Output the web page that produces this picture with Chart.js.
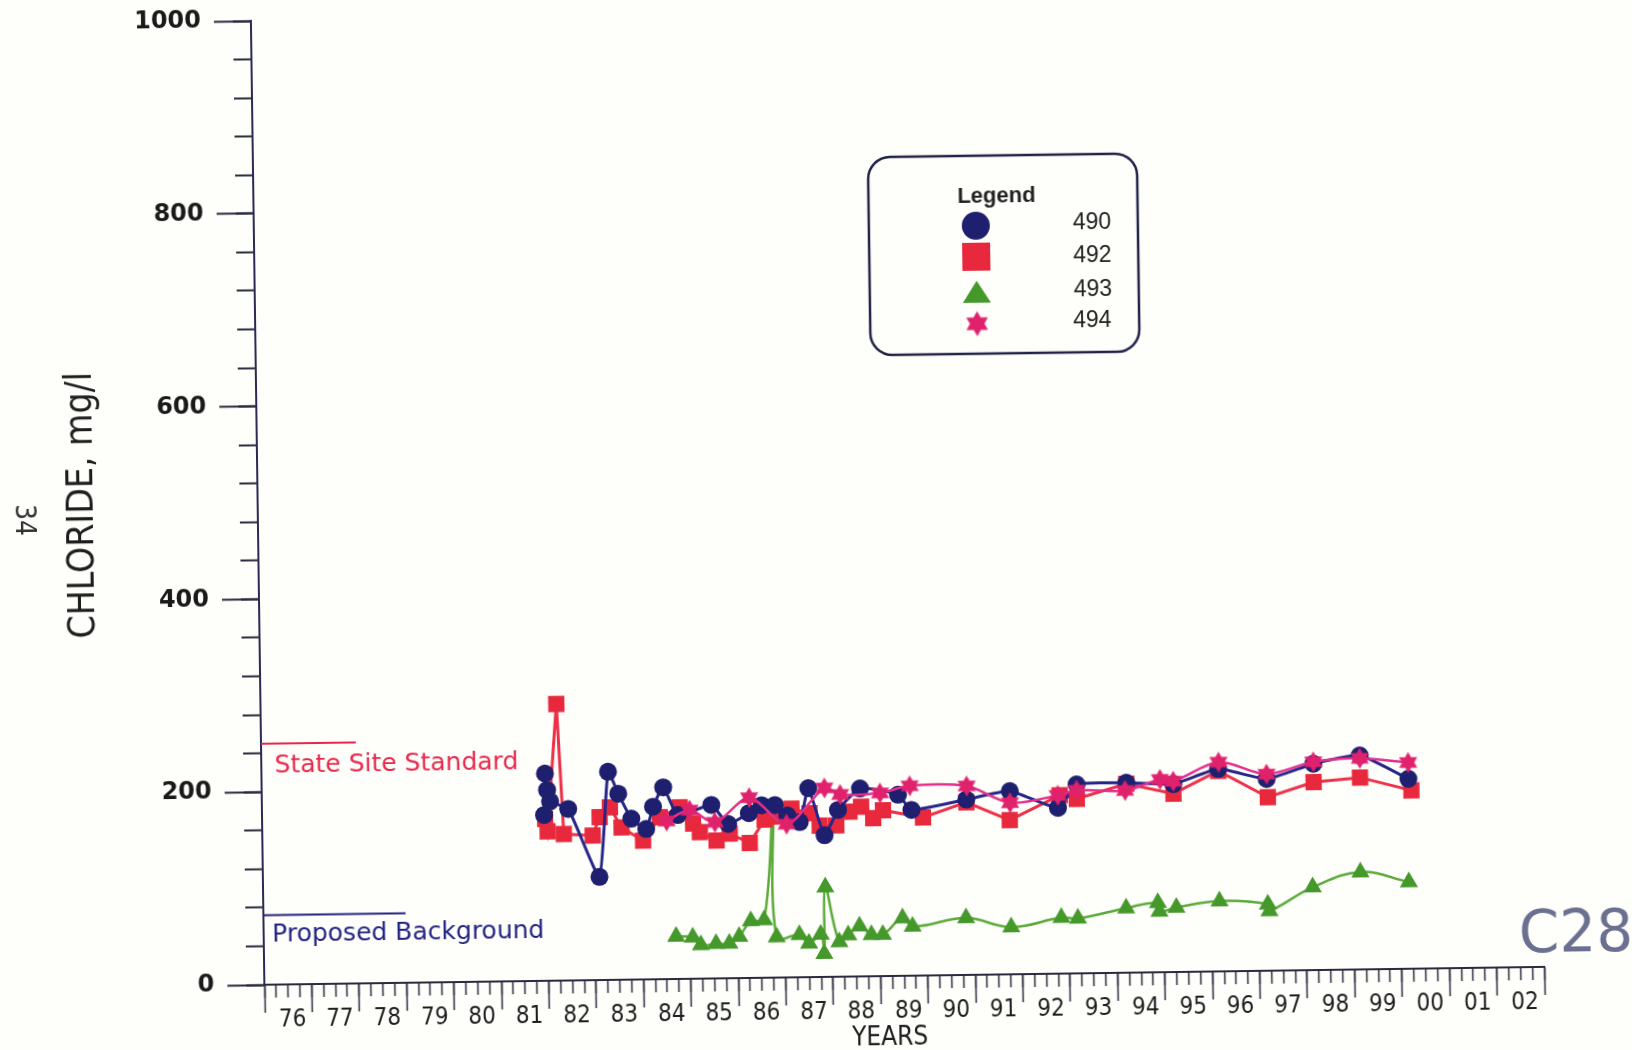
<!DOCTYPE html>
<html>
<head>
<meta charset="utf-8">
<title>Chloride</title>
<script src="https://cdn.jsdelivr.net/npm/chart.js@4.4.1/dist/chart.umd.min.js"></script>
<style>
    html, body { margin: 0; padding: 0; background: #fefefb; overflow: hidden; }
    /* a folha original foi digitalizada levemente torta */
    #grafico { display: block; transform: rotate(-0.8deg); transform-origin: 816px 525px; }
</style>
</head>
<body>
<canvas id="grafico" width="1632" height="1050"></canvas>
<script>
// eixo X em anos decimais, rotulos no meio de cada ano
const anoInicio = 1976;
const anoFim = 2003;
const rotulosAnos = ['76', '77', '78', '79', '80', '81', '82', '83', '84', '85', '86', '87', '88', '89',
    '90', '91', '92', '93', '94', '95', '96', '97', '98', '99', '00', '01', '02'];

// eixo Y (mg/l)
const valoresEixoY = [0, 200, 400, 600, 800, 1000];
const rotulosEixoY = ['0', '200', '400', '600', '800', '1000'];

// poço 490
const anos490 = [1981.95, 1981.98, 1982.02, 1982.08, 1982.46, 1983.10, 1983.31, 1983.52, 1983.79, 1984.10,
    1984.25, 1984.47, 1984.77, 1985.48, 1985.83, 1986.27, 1986.54, 1986.82, 1987.08, 1987.34, 1987.53,
    1987.86, 1988.15, 1988.62, 1989.42, 1989.70, 1990.86, 1991.78, 1992.79, 1993.19, 1994.24, 1995.23,
    1996.18, 1997.20, 1998.19, 1999.17, 2000.19];
const cloreto490 = [172, 215, 198, 186, 178, 107, 216, 193, 167, 156,
    179, 199, 170, 180, 160, 171, 179, 179, 168, 161, 196,
    147, 173, 195, 188, 172, 182, 190, 172, 196, 197, 195,
    210, 199, 214, 222, 197];

// poço 492
const anos492 = [1981.97, 1982.02, 1982.24, 1982.36, 1982.97, 1983.12, 1983.34, 1983.58, 1984.03, 1984.39,
    1984.81, 1985.09, 1985.23, 1985.58, 1985.86, 1986.28, 1986.60, 1986.84, 1987.17, 1987.55, 1987.76,
    1988.11, 1988.39, 1988.64, 1988.89, 1989.10, 1989.94, 1990.86, 1991.77, 1992.83, 1993.19, 1994.24,
    1995.23, 1996.18, 1997.22, 1998.19, 1999.17, 2000.25];
const cloreto492 = [168, 155, 287, 152, 150, 169, 179, 158, 144, 168,
    178, 161, 152, 143, 150, 140, 164, 167, 175, 170, 157,
    157, 171, 176, 164, 172, 164, 179, 160, 185, 181, 196,
    185, 208, 180, 195, 199, 185];

// poço 493
const anos493 = [1984.70, 1985.05, 1985.22, 1985.54, 1985.82, 1986.03, 1986.28, 1986.56, 1986.78, 1986.82,
    1987.30, 1987.50, 1987.75, 1987.82, 1987.86, 1988.14, 1988.33, 1988.57, 1988.82, 1989.06, 1989.48,
    1989.69, 1990.82, 1991.77, 1992.83, 1993.18, 1994.20, 1994.87, 1994.90, 1995.26, 1996.17, 1997.19,
    1997.22, 1998.14, 1999.15, 2000.17];
const cloreto493 = [44, 43, 35, 36, 36, 43, 59, 60, 177, 42,
    44, 35, 44, 24, 93, 36, 43, 52, 43, 43, 60,
    51, 59, 49, 58, 57, 67, 72, 63, 67, 73, 69,
    62, 86, 101, 90];

// poço 494
const anos494 = [1984.53, 1985.02, 1985.55, 1986.28, 1987.06, 1987.87, 1988.20, 1989.04, 1989.67, 1990.87,
    1991.78, 1992.79, 1993.19, 1994.21, 1994.95, 1995.23, 1996.19, 1997.20, 1998.19, 1999.17, 2000.19];
const cloreto494 = [164, 175, 162, 187, 159, 196, 189, 190, 197, 196,
    178, 185, 190, 189, 200, 198, 217, 204, 216, 219, 214];

// linhas de referencia
const anosPadraoEstadual = [1976, 1978];
const valorPadraoEstadual = [250, 250];
const anosFundoProposto = [1976, 1979];
const valorFundoProposto = [72, 72];

const corEixo = '#2b2b3e';
const corAzul = '#1f1f70';
const corVermelho = '#e8283c';
const corVerde = '#45992a';
const corRosa = '#e0226c';

function pontos(anos, valores) {
    return anos.map((ano, i) => ({ x: ano, y: valores[i] }));
}

// estrela de seis pontas usada como marcador do poço 494
function criarEstrela(raio, cor) {
    const tela = document.createElement('canvas');
    const tam = Math.ceil(raio * 2 + 2);
    tela.width = tam;
    tela.height = tam;
    const c = tela.getContext('2d');
    const cx = tam / 2, cy = tam / 2;
    c.fillStyle = cor;
    c.beginPath();
    for (let i = 0; i < 12; i++) {
        const ang = -Math.PI / 2 + i * Math.PI / 6;
        const r = i % 2 === 0 ? raio : raio * 0.58;
        const px = cx + Math.cos(ang) * r;
        const py = cy + Math.sin(ang) * r;
        if (i === 0) c.moveTo(px, py); else c.lineTo(px, py);
    }
    c.closePath();
    c.fill();
    return tela;
}

const estrelaPonto = criarEstrela(10.5, corRosa);
const estrelaLegenda = criarEstrela(12.5, corRosa);

// posições dos tracos do eixo X (trimestres) e dos anos
const trimestres = [];
for (let v = anoInicio; v <= anoFim + 0.001; v += 0.25) trimestres.push(v);
const anosInteiros = [];
for (let v = anoInicio; v <= anoFim; v++) anosInteiros.push(v);
const tracosMenoresY = [];
for (let v = 0; v <= 1000; v += 40) tracosMenoresY.push(v);

function rotuloAno(valor) {
    const frac = valor - Math.floor(valor);
    if (Math.abs(frac - 0.5) < 0.01) {
        return rotulosAnos[Math.floor(valor) - anoInicio] || '';
    }
    return '';
}

function caixaArredondada(c, x, y, w, h, r) {
    c.beginPath();
    c.moveTo(x + r, y);
    c.lineTo(x + w - r, y);
    c.arcTo(x + w, y, x + w, y + r, r);
    c.lineTo(x + w, y + h - r);
    c.arcTo(x + w, y + h, x + w - r, y + h, r);
    c.lineTo(x + r, y + h);
    c.arcTo(x, y + h, x, y + h - r, r);
    c.lineTo(x, y + r);
    c.arcTo(x, y, x + r, y, r);
    c.closePath();
}

const fonteEstreita = '"DejaVu Sans Condensed", "Liberation Sans Narrow", sans-serif';

// textos soltos e a caixa de legenda
const anotacoes = {
    id: 'anotacoes',
    afterDraw(chart) {
        const c = chart.ctx;
        const ex = chart.scales.x;
        const ey = chart.scales.y;
        c.save();

        c.textBaseline = 'middle';
        c.textAlign = 'left';
        c.font = '25px "DejaVu Sans", Verdana, sans-serif';
        c.fillStyle = '#e8284a';
        c.fillText('State Site Standard', ex.getPixelForValue(1976.28), ey.getPixelForValue(valorPadraoEstadual[0]) + 22);
        c.fillStyle = '#232383';
        c.fillText('Proposed Background', ex.getPixelForValue(1976.18), ey.getPixelForValue(valorFundoProposto[0]) + 20);

        // titulo do eixo X
        c.textAlign = 'center';
        c.fillStyle = '#1e1e1e';
        c.font = '26px ' + fonteEstreita;
        c.fillText('YEARS', 883, 1039);

        // numero da pagina, girado
        c.save();
        c.translate(23, 509);
        c.rotate(Math.PI / 2);
        c.fillStyle = '#333';
        c.font = '28px ' + fonteEstreita;
        c.fillText('34', 0, 0);
        c.restore();

        // anotacao a mao
        c.textAlign = 'left';
        c.font = '58px "DejaVu Sans ExtraLight", "DejaVu Sans", sans-serif';
        c.fillStyle = '#6b7090';
        c.fillText('C28', 1513, 947);

        // legenda
        caixaArredondada(c, 873, 158, 269, 198, 22);
        c.fillStyle = '#fefefb';
        c.fill();
        c.lineWidth = 2.5;
        c.strokeStyle = '#23234a';
        c.stroke();

        c.textAlign = 'center';
        c.fillStyle = '#222';
        c.font = 'bold 22px "Liberation Sans", Arial, sans-serif';
        c.fillText('Legend', 1001, 199);

        const mx = 980;
        c.fillStyle = corAzul;
        c.beginPath();
        c.arc(mx, 228, 14, 0, Math.PI * 2);
        c.fill();

        c.fillStyle = corVermelho;
        c.fillRect(mx - 14, 245, 28, 28);

        c.fillStyle = corVerde;
        c.beginPath();
        c.moveTo(mx, 283);
        c.lineTo(mx + 14, 305);
        c.lineTo(mx - 14, 305);
        c.closePath();
        c.fill();

        c.drawImage(estrelaLegenda, mx - estrelaLegenda.width / 2, 326 - estrelaLegenda.height / 2);

        c.textAlign = 'left';
        c.fillStyle = '#222';
        c.font = '23px "Liberation Sans", Arial, sans-serif';
        c.fillText('490', 1077, 227);
        c.fillText('492', 1077, 260);
        c.fillText('493', 1077, 294);
        c.fillText('494', 1076, 325);

        c.restore();
    }
};

new Chart(document.getElementById('grafico').getContext('2d'), {
    type: 'line',
    data: {
        datasets: [
            {
                label: '494',
                data: pontos(anos494, cloreto494),
                borderColor: '#e3308c',
                borderWidth: 2.5,
                tension: 0.3,
                pointStyle: estrelaPonto,
                pointRadius: 10.5,
                pointBorderWidth: 0
            },
            {
                label: '490',
                data: pontos(anos490, cloreto490),
                borderColor: '#26268a',
                borderWidth: 3,
                tension: 0.15,
                pointStyle: 'circle',
                pointRadius: 9,
                pointBackgroundColor: corAzul,
                pointBorderWidth: 0
            },
            {
                label: '492',
                data: pontos(anos492, cloreto492),
                borderColor: '#ee3048',
                borderWidth: 3,
                tension: 0,
                pointStyle: 'rect',
                pointRadius: 11.5,
                pointBackgroundColor: corVermelho,
                pointBorderWidth: 0
            },
            {
                label: '493',
                data: pontos(anos493, cloreto493),
                borderColor: '#5cab3a',
                borderWidth: 2.5,
                tension: 0.4,
                pointStyle: 'triangle',
                pointRadius: 10.5,
                pointBackgroundColor: corVerde,
                pointBorderWidth: 0
            },
            {
                label: 'State Site Standard',
                data: pontos(anosPadraoEstadual, valorPadraoEstadual),
                borderColor: '#e8284a',
                borderWidth: 2,
                pointRadius: 0
            },
            {
                label: 'Proposed Background',
                data: pontos(anosFundoProposto, valorFundoProposto),
                borderColor: '#232383',
                borderWidth: 2,
                pointRadius: 0
            }
        ]
    },
    options: {
        responsive: false,
        animation: false,
        layout: { padding: { top: 13, right: 94, bottom: 0, left: 0 } },
        plugins: {
            legend: { display: false },
            tooltip: { enabled: false }
        },
        scales: {
            x: {
                type: 'linear',
                position: 'bottom',
                weight: 1,
                min: anoInicio,
                max: anoFim,
                afterFit: (escala) => { escala.height = 73; },
                afterBuildTicks: (escala) => { escala.ticks = trimestres.map(v => ({ value: v })); },
                grid: { drawOnChartArea: false, tickLength: 13, tickColor: corEixo, tickWidth: 1.5 },
                border: { display: true, color: corEixo, width: 2 },
                ticks: {
                    autoSkip: false,
                    maxRotation: 0,
                    padding: 8,
                    labelOffset: 4,
                    color: '#1e1e1e',
                    font: { family: fonteEstreita, size: 24 },
                    callback: (valor) => rotuloAno(valor)
                }
            },
            xAnos: {
                type: 'linear',
                position: 'bottom',
                weight: 0,
                min: anoInicio,
                max: anoFim,
                afterFit: (escala) => { escala.height = 0; },
                afterBuildTicks: (escala) => { escala.ticks = anosInteiros.map(v => ({ value: v })); },
                grid: { drawOnChartArea: false, tickLength: 28, tickColor: corEixo, tickWidth: 1.5 },
                border: { display: false },
                ticks: { display: false }
            },
            y: {
                type: 'linear',
                position: 'left',
                weight: 1,
                min: 0,
                max: 1000,
                afterFit: (escala) => {
                    escala.width = 258;
                    // sem folga extra acima do 1000
                    escala.paddingTop = 0;
                    escala.paddingBottom = 0;
                },
                afterBuildTicks: (escala) => { escala.ticks = valoresEixoY.map(v => ({ value: v })); },
                grid: { drawOnChartArea: false, tickLength: 37, tickColor: corEixo, tickWidth: 2 },
                border: { display: true, color: '#2a2a55', width: 2 },
                ticks: {
                    padding: 13,
                    color: '#1a1a1a',
                    font: { family: '"DejaVu Sans", Verdana, sans-serif', size: 24, weight: 'bold' },
                    callback: (valor, i) => rotulosEixoY[i]
                },
                title: {
                    display: true,
                    text: 'CHLORIDE, mg/l',
                    color: '#1e1e1e',
                    font: { family: fonteEstreita, size: 37, lineHeight: 1.2 },
                    padding: { top: 61, bottom: 0 }
                }
            },
            yMenor: {
                type: 'linear',
                position: 'left',
                weight: 0,
                min: 0,
                max: 1000,
                afterFit: (escala) => {
                    escala.width = 0;
                    escala.paddingTop = 0;
                    escala.paddingBottom = 0;
                },
                afterBuildTicks: (escala) => { escala.ticks = tracosMenoresY.map(v => ({ value: v })); },
                grid: { drawOnChartArea: false, tickLength: 18, tickColor: corEixo, tickWidth: 2 },
                border: { display: false },
                ticks: { display: false }
            }
        }
    },
    plugins: [anotacoes]
});
</script>
</body>
</html>
